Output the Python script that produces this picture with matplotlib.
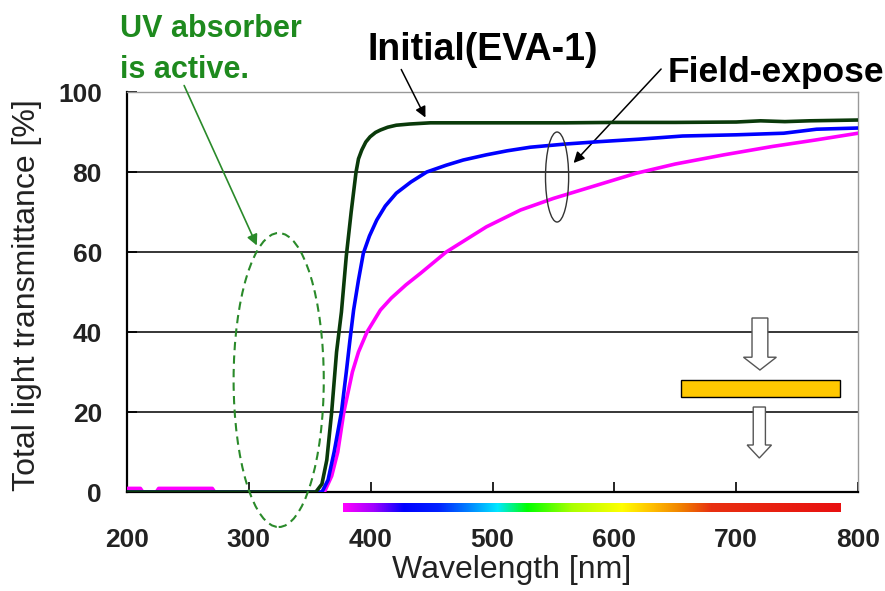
import numpy as np
import matplotlib.pyplot as plt
from matplotlib.patches import Ellipse, FancyArrow, Rectangle
from matplotlib.colors import LinearSegmentedColormap

plt.rcParams['font.family'] = ['Liberation Sans', 'DejaVu Sans']

# Initial (EVA-1)
wl_init = [200, 355, 360, 364, 368, 372, 376, 380, 384, 388, 390, 392.7, 396, 399.5, 404,
           408, 414, 421, 432, 449, 500, 560, 600, 650, 700, 720, 740, 760, 780, 800]
tr_init = [0, 0, 2, 8, 20, 35, 45, 59, 70, 80, 83.3, 85.5, 87.5, 88.8, 89.9,
           90.5, 91.2, 91.7, 92.0, 92.3, 92.3, 92.3, 92.4, 92.4, 92.5, 92.8, 92.6, 92.8, 92.9, 93]

# Field-exposed (blue)
wl_blue = [200, 360, 365, 370, 376, 380, 383, 386, 390, 394, 399, 405, 412, 421, 433,
           446, 462, 476, 495, 512, 531, 560, 588, 620, 656, 700, 739, 766, 800]
tr_blue = [0, 0, 3, 10, 20, 30, 38, 45.5, 53, 59.7, 64, 68, 71.5, 74.7, 77.5,
           80, 81.7, 83, 84.3, 85.3, 86.2, 87, 87.6, 88.2, 89, 89.3, 89.7, 90.7, 91]

# Field-exposed (magenta)
wl_mag = [200, 211, 213, 224, 226, 270, 272, 362, 368, 373, 378, 385, 390, 397, 408,
          417, 429, 441, 462, 495, 523, 550, 577, 618, 650, 690, 730, 765, 800]
tr_mag = [0.9, 0.9, 0, 0, 0.9, 0.9, 0, 0, 4, 10, 20, 30, 35, 40, 45.5,
          48.5, 51.8, 54.7, 60, 66.3, 70.5, 73.4, 75.9, 79.7, 82, 84.3, 86.4, 88, 89.7]

x_ticks = [200, 300, 400, 500, 600, 700, 800]
y_ticks = [0, 20, 40, 60, 80, 100]

fig = plt.figure(figsize=(8.85, 5.91), dpi=100)
ax = fig.add_axes([0.1435, 0.1675, 0.826, 0.6768])

for yv in [20, 40, 60, 80]:
    ax.axhline(yv, color='black', lw=1.1, zorder=1)

ax.plot(wl_mag, tr_mag, color='#ff00ff', lw=2.6, zorder=3)
ax.plot(wl_blue, tr_blue, color='#0000ff', lw=2.6, zorder=4)
ax.plot(wl_init, tr_init, color='#0a3a0a', lw=2.6, zorder=5)

ax.set_xlim(200, 800)
ax.set_ylim(0, 100)
ax.set_xticks(x_ticks)
ax.set_yticks(y_ticks)
ax.set_xticklabels([str(v) for v in x_ticks], fontsize=19, fontweight='bold', color='#222222')
ax.set_yticklabels([str(v) for v in y_ticks], fontsize=19, fontweight='bold', color='#222222')
ax.tick_params(axis='x', direction='in', length=7, width=1.2, pad=26)
ax.tick_params(axis='y', direction='in', length=7, width=1.2, pad=18)
ax.spines['left'].set_linewidth(1.6)
ax.spines['bottom'].set_linewidth(1.6)
ax.spines['top'].set_color('#999999')
ax.spines['right'].set_color('#999999')
ax.spines['top'].set_linewidth(1.0)
ax.spines['right'].set_linewidth(1.0)

# visible spectrum bar under the axis
spec = LinearSegmentedColormap.from_list('spec', [
    (0.0, '#ff00ff'), (0.06, '#a000ff'), (0.12, '#0000ff'), (0.19, '#0020ff'),
    (0.25, '#0080ff'), (0.31, '#00e8ff'), (0.37, '#00ff00'), (0.46, '#aaff00'),
    (0.56, '#ffff00'), (0.62, '#ffc000'), (0.68, '#f08000'), (0.74, '#e83010'),
    (1.0, '#e81010')])
ax.imshow(np.linspace(0, 1, 256)[None, :], cmap=spec, aspect='auto',
          extent=[377, 785, -5, -2.75], clip_on=False, zorder=2)
ax.set_xlim(200, 800)
ax.set_ylim(0, 100)

# UV absorber annotation
ax.add_patch(Ellipse((324.5, 28), 74, 73.5, fill=False, ec='#2a8a2a', lw=1.5,
                     ls=(0, (4, 2.5)), clip_on=False, zorder=6))
ax.annotate('', xy=(307.5, 61), xycoords='data', xytext=(183, 508),
            textcoords='figure pixels',
            arrowprops=dict(arrowstyle='-|>', color='#2a8a2a', lw=1.2, mutation_scale=16))
fig.text(120 / 885, 1 - 37 / 591, 'UV absorber', fontsize=22, fontweight='bold',
         color='#1e8a1e', ha='left', va='baseline')
fig.text(120 / 885, 1 - 78 / 591, 'is active.', fontsize=22, fontweight='bold',
         color='#1e8a1e', ha='left', va='baseline')

# Initial label
fig.text(368 / 885, 1 - 60 / 591, 'Initial(EVA-1)', fontsize=27, fontweight='bold',
         color='black', ha='left', va='baseline')
ax.annotate('', xy=(446, 93), xycoords='data', xytext=(400, 524),
            textcoords='figure pixels',
            arrowprops=dict(arrowstyle='-|>', color='black', lw=1.1, mutation_scale=16))

# Field-exposed label (runs off the right edge, as in the original)
fig.text(668 / 885, 1 - 82 / 591, 'Field-exposed', fontsize=25.5, fontweight='bold',
         color='black', ha='left', va='baseline')
ax.add_patch(Ellipse((553, 78.75), 19, 22.5, fill=False, ec='#333333', lw=1.0, zorder=6))
ax.annotate('', xy=(565, 81.75), xycoords='data', xytext=(663, 524),
            textcoords='figure pixels',
            arrowprops=dict(arrowstyle='-|>', color='black', lw=1.1, mutation_scale=16))

# hollow arrows and orange bar
ax.add_patch(FancyArrow(719.5, 43.5, 0, -13, width=13, head_width=27, head_length=3.2,
                        length_includes_head=True, fc='white', ec='#555555', lw=1.0, zorder=6))
ax.add_patch(Rectangle((655, 23.8), 130, 4.2, fc='#ffc800', ec='black', lw=1.0, zorder=6))
ax.add_patch(FancyArrow(719, 21.25, 0, -12.75, width=10, head_width=20, head_length=3.25,
                        length_includes_head=True, fc='white', ec='#555555', lw=1.0, zorder=6))

fig.text(27 / 885, 0.5008, 'Total light transmittance [%]', fontsize=23, color='#222222',
         rotation=90, ha='center', va='center')
fig.text(512 / 885, 0.035, 'Wavelength [nm]', fontsize=23, color='#222222',
         ha='center', va='center')

fig.savefig('out.png', dpi=100)
